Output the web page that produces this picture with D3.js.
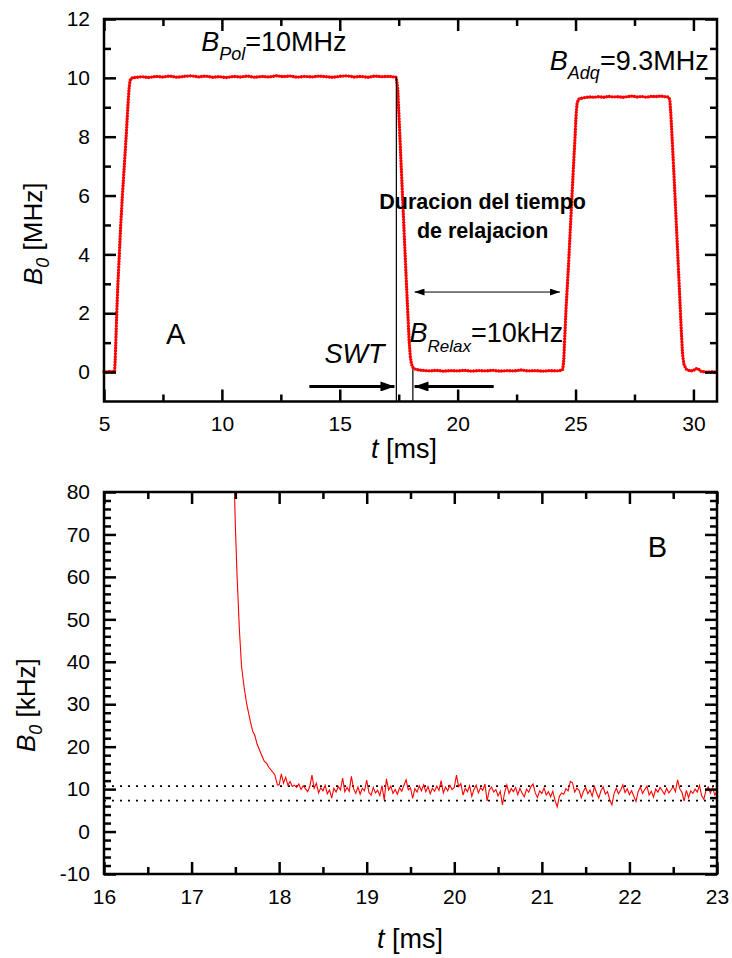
<!DOCTYPE html>
<html>
<head>
<meta charset="utf-8">
<script src="https://cdn.jsdelivr.net/npm/d3@7"></script>
<style>
body { margin: 0; background: #fff; }
svg text { font-family: "Liberation Sans", Arial, sans-serif; fill: #000; }
.axis text { font-size: 21px; }
.axis line { stroke: #000; stroke-width: 2.5; }
.axis path { display: none; }
</style>
</head>
<body>
<svg id="chart" width="732" height="958"></svg>
<script>
// panel A: B0 [MHz] vs t [ms], pieces of the field cycle
var baseStart = [[5.00,0.02],[5.10,0.00],[5.20,0.03],[5.30,0.01],[5.40,0.02],[5.45,0.05]];
var risePol = [[5.47,0.3],[5.50,1.0],[5.54,2.0],[5.59,3.0],[5.65,4.0],[5.71,5.0],[5.78,6.0],
  [5.86,7.0],[5.94,8.0],[6.01,9.0],[6.06,9.6],[6.10,9.9],[6.15,9.98],[6.25,10.01]];
var plateauPol = [[6.4,10.02],[6.6,10.04],[6.9,10.01],[7.2,10.05],[7.5,10.03],[7.8,10.06],[8.1,10.02],
  [8.4,10.05],[8.7,10.07],[9.0,10.03],[9.3,10.06],[9.6,10.02],[9.9,10.04],[10.2,10.01],[10.5,10.05],
  [10.8,10.03],[11.1,10.06],[11.4,10.02],[11.7,10.05],[12.0,10.03],[12.3,10.07],[12.6,10.04],[12.9,10.06],
  [13.2,10.02],[13.5,10.05],[13.8,10.03],[14.1,10.06],[14.4,10.04],[14.7,10.02],[15.0,10.05],[15.3,10.07],
  [15.6,10.03],[15.9,10.05],[16.2,10.02],[16.5,10.06],[16.8,10.04],[17.1,10.05],[17.3,10.03]];
var fallPol = [[17.38,10.03],[17.42,9.9],[17.46,9.6],[17.50,8.9],[17.60,7.1],[17.70,5.3],[17.80,3.5],
  [17.88,2.1],[17.94,1.1],[17.99,0.55],[18.04,0.28],[18.10,0.16],[18.20,0.1],[18.35,0.07]];
var relaxA = [[18.5,0.06],[18.8,0.04],[19.1,0.06],[19.4,0.03],[19.7,0.05],[20.0,0.04],[20.3,0.06],
  [20.6,0.03],[20.9,0.05],[21.2,0.04],[21.5,0.06],[21.8,0.03],[22.1,0.05],[22.4,0.04],[22.7,0.07],
  [23.0,0.04],[23.3,0.05],[23.6,0.03],[23.9,0.05],[24.2,0.04],[24.42,0.06]];
var riseAdq = [[24.46,0.1],[24.50,0.4],[24.55,1.3],[24.60,2.2],[24.70,3.6],[24.80,5.2],[24.90,6.8],
  [24.98,8.0],[25.02,8.7],[25.06,9.1],[25.12,9.27]];
var plateauAdq = [[25.2,9.3],[25.4,9.33],[25.6,9.35],[25.8,9.34],[26.0,9.36],[26.2,9.34],[26.4,9.37],
  [26.6,9.35],[26.8,9.36],[27.0,9.34],[27.2,9.36],[27.4,9.38],[27.6,9.35],[27.8,9.37],[28.0,9.34],
  [28.2,9.37],[28.4,9.36],[28.6,9.38],[28.8,9.36],[28.95,9.35]];
var fallAdq = [[29.00,9.25],[29.04,8.8],[29.10,7.9],[29.20,6.3],[29.30,4.6],[29.40,2.9],[29.48,1.5],
  [29.54,0.6],[29.60,0.25],[29.70,0.1],[29.85,0.04]];
var tailA = [[30.0,0.05],[30.1,0.12],[30.2,0.11],[30.3,0.03],[30.5,0.0],[30.8,0.01],[31.0,0.0]];

// panel B: B0 [kHz] vs t [ms], zoom on the relaxation level
var decayB = [[17.49,80],[17.50,72],[17.52,60],[17.545,48],[17.57,39],[17.60,34],[17.63,30],
  [17.67,26],[17.70,23.5],[17.72,22.8],[17.75,20.5],[17.79,18.5],[17.83,16.6],[17.86,16.0],
  [17.88,15.2],[17.92,14.2],[17.95,13.4],[17.98,11.0]];
var noiseB = [[18.000,11.0],[18.025,13.6],[18.050,11.4],[18.075,12.8],[18.100,10.9],[18.125,11.8],
  [18.150,10.6],[18.175,10.9],[18.200,10.4],[18.225,11.2],[18.250,9.9],[18.275,10.8],[18.300,10.1],
  [18.325,9.4],[18.350,10.6],[18.375,13.3],[18.400,10.2],[18.425,11.4],[18.450,9.1],[18.475,10.3],
  [18.500,9.6],[18.525,10.9],[18.550,8.9],[18.575,9.8],[18.600,7.9],[18.625,10.2],[18.650,9.3],
  [18.675,10.6],[18.700,9.8],[18.725,12.6],[18.750,9.4],[18.775,10.4],[18.800,9.5],[18.825,13.0],
  [18.850,10.1],[18.875,9.0],[18.900,10.5],[18.925,8.8],[18.950,10.2],[18.975,9.6],[19.000,12.1],
  [19.025,9.2],[19.050,8.6],[19.075,10.4],[19.100,9.1],[19.125,9.7],[19.150,8.5],[19.175,10.8],
  [19.200,7.4],[19.225,12.4],[19.250,9.8],[19.275,10.7],[19.300,9.0],[19.325,9.9],[19.350,8.8],
  [19.375,10.3],[19.400,9.5],[19.425,10.9],[19.450,12.2],[19.475,9.8],[19.500,10.3],[19.525,7.8],
  [19.550,10.1],[19.575,9.3],[19.600,10.8],[19.625,9.6],[19.650,11.0],[19.675,9.4],[19.700,10.6],
  [19.725,8.9],[19.750,10.2],[19.775,9.5],[19.800,10.7],[19.825,9.7],[19.850,12.0],[19.875,9.1],
  [19.900,10.5],[19.925,9.6],[19.950,10.9],[19.975,9.9],[20.000,10.4],[20.025,13.3],[20.050,10.6],
  [20.075,11.3],[20.100,8.6],[20.125,10.2],[20.150,9.4],[20.175,10.8],[20.200,8.3],[20.225,9.9],
  [20.250,10.9],[20.275,9.1],[20.300,10.3],[20.325,9.7],[20.350,11.2],[20.375,7.2],[20.400,9.8],
  [20.425,10.5],[20.450,9.3],[20.475,9.9],[20.500,8.4],[20.525,9.5],[20.550,6.3],[20.575,9.2],
  [20.600,11.0],[20.625,9.0],[20.650,10.1],[20.675,9.4],[20.700,10.4],[20.725,8.7],[20.750,10.2],
  [20.775,9.0],[20.800,8.2],[20.825,10.0],[20.850,9.3],[20.875,10.6],[20.900,11.2],[20.925,9.1],
  [20.950,8.0],[20.975,9.6],[21.000,9.0],[21.025,10.3],[21.050,8.6],[21.075,9.4],[21.100,8.2],
  [21.125,9.5],[21.150,7.4],[21.175,5.8],[21.200,8.3],[21.225,9.1],[21.250,8.8],[21.275,10.1],
  [21.300,9.6],[21.325,11.8],[21.350,11.5],[21.375,9.3],[21.400,10.2],[21.425,9.7],[21.450,8.0],
  [21.475,9.5],[21.500,10.4],[21.525,8.9],[21.550,9.8],[21.575,8.3],[21.600,10.6],[21.625,9.1],
  [21.650,7.9],[21.675,9.6],[21.700,10.5],[21.725,8.8],[21.750,9.4],[21.775,7.5],[21.800,6.3],
  [21.825,9.0],[21.850,10.2],[21.875,8.9],[21.900,9.8],[21.925,11.0],[21.950,9.2],[21.975,10.1],
  [22.000,8.7],[22.025,9.6],[22.050,8.3],[22.075,7.1],[22.100,9.4],[22.125,10.5],[22.150,9.0],
  [22.175,9.9],[22.200,10.7],[22.225,8.6],[22.250,9.5],[22.275,8.1],[22.300,10.0],[22.325,9.3],
  [22.350,10.4],[22.375,9.6],[22.400,8.8],[22.425,10.2],[22.450,9.1],[22.475,9.8],[22.500,10.6],
  [22.525,9.4],[22.550,12.2],[22.575,10.1],[22.600,9.2],[22.625,7.2],[22.650,9.7],[22.675,8.0],
  [22.700,9.6],[22.725,9.0],[22.750,10.0],[22.775,9.3],[22.800,10.9],[22.825,8.4],[22.850,7.6],
  [22.875,9.8],[22.900,10.5],[22.925,9.1],[22.950,10.3],[22.975,8.6],[23.000,9.4]];
var levelsB = [10.7, 7.3];

// ticks
var xTicksA = [5, 10, 15, 20, 25, 30];
var xMinorA = [7.5, 12.5, 17.5, 22.5, 27.5];
var yTicksA = [0, 2, 4, 6, 8, 10, 12];
var yMinorA = [1, 3, 5, 7, 9, 11];
var xTicksB = [16, 17, 18, 19, 20, 21, 22, 23];
var xMinorB = [16.5, 17.5, 18.5, 19.5, 20.5, 21.5, 22.5];
var yTicksB = [-10, 0, 10, 20, 30, 40, 50, 60, 70, 80];
var yMinorB = d3.range(-8, 80, 2).filter(function(d) { return d % 10 != 0; });

var svg = d3.select("#chart");

var defs = svg.append("defs");
function arrowHead(id, len, wid) {
	defs.append("marker")
		.attr("id", id)
		.attr("markerUnits", "userSpaceOnUse")
		.attr("viewBox", "0 0 " + len + " " + wid)
		.attr("refX", len).attr("refY", wid / 2)
		.attr("markerWidth", len).attr("markerHeight", wid)
		.attr("orient", "auto-start-reverse")
	.append("path")
		.attr("d", "M0,0L" + len + "," + (wid / 2) + "L0," + wid + "Z")
		.attr("fill", "#000");
}
arrowHead("headBig", 14, 10);
arrowHead("headSmall", 10, 7);

// frame + ticks for one panel
function drawAxes(box, x, y, xt, xm, yt, ym) {
	var fmt = function(d) { return String(d); };
	svg.append("g").attr("class", "axis").attr("transform", "translate(0," + box.bottom + ")")
		.call(d3.axisBottom(x).tickValues(xt).tickSize(-12).tickPadding(15).tickFormat(fmt));
	svg.append("g").attr("class", "axis").attr("transform", "translate(0," + box.bottom + ")")
		.call(d3.axisBottom(x).tickValues(xm).tickSize(-7).tickFormat(""));
	svg.append("g").attr("class", "axis").attr("transform", "translate(0," + box.top + ")")
		.call(d3.axisTop(x).tickValues(xt).tickSize(-12).tickFormat(""));
	svg.append("g").attr("class", "axis").attr("transform", "translate(0," + box.top + ")")
		.call(d3.axisTop(x).tickValues(xm).tickSize(-7).tickFormat(""));
	svg.append("g").attr("class", "axis").attr("transform", "translate(" + box.left + ",0)")
		.call(d3.axisLeft(y).tickValues(yt).tickSize(-12).tickPadding(14).tickFormat(fmt));
	svg.append("g").attr("class", "axis").attr("transform", "translate(" + box.left + ",0)")
		.call(d3.axisLeft(y).tickValues(ym).tickSize(-7).tickFormat(""));
	svg.append("g").attr("class", "axis").attr("transform", "translate(" + box.right + ",0)")
		.call(d3.axisRight(y).tickValues(yt).tickSize(-12).tickFormat(""));
	svg.append("g").attr("class", "axis").attr("transform", "translate(" + box.right + ",0)")
		.call(d3.axisRight(y).tickValues(ym).tickSize(-7).tickFormat(""));
	svg.append("rect")
		.attr("x", box.left).attr("y", box.top)
		.attr("width", box.right - box.left).attr("height", box.bottom - box.top)
		.attr("fill", "none").attr("stroke", "#000").attr("stroke-width", 2.5);
}

// text with italic letter + subscript
function subText(px, py, main, sub, rest, size, subSize, shift) {
	var t = svg.append("text").attr("x", px).attr("y", py).style("font-size", size + "px");
	t.append("tspan").style("font-style", "italic").text(main);
	t.append("tspan").style("font-style", "italic").style("font-size", subSize + "px")
		.attr("dy", shift).text(sub);
	t.append("tspan").attr("dy", -shift).text(rest);
	return t;
}

// ---------- panel A ----------
var boxA = {left: 104, right: 717, top: 19, bottom: 401.5};
var xA = d3.scaleLinear().domain([5, 31]).range([boxA.left, boxA.right]);
var yA = d3.scaleLinear().domain([-1, 12]).range([boxA.bottom, boxA.top]);

var cycle = [].concat(baseStart, risePol, plateauPol, fallPol, relaxA, riseAdq, plateauAdq, fallAdq, tailA);
var lineA = d3.line().x(function(d) { return xA(d[0]); }).y(function(d) { return yA(d[1]); });

svg.append("path").datum(cycle)
	.attr("d", lineA).attr("fill", "none").attr("stroke", "#000").attr("stroke-width", 0.8);
svg.append("path").datum(cycle)
	.attr("d", lineA).attr("fill", "none").attr("stroke", "#ff0000")
	.attr("stroke-width", 3.4).attr("stroke-dasharray", "0 2.8").attr("stroke-linecap", "round");

// switching time markers
var swtStart = 17.40, swtEnd = 18.10;
svg.append("line")
	.attr("x1", xA(swtStart)).attr("x2", xA(swtStart))
	.attr("y1", yA(10.03)).attr("y2", yA(-1))
	.attr("stroke", "#000").attr("stroke-width", 1.2);
svg.append("line")
	.attr("x1", xA(swtEnd)).attr("x2", xA(swtEnd))
	.attr("y1", yA(0.1)).attr("y2", yA(-1))
	.attr("stroke", "#000").attr("stroke-width", 1.2);

svg.append("line")
	.attr("x1", xA(13.71)).attr("x2", xA(17.32)).attr("y1", yA(-0.49)).attr("y2", yA(-0.49))
	.attr("stroke", "#000").attr("stroke-width", 3).attr("marker-end", "url(#headBig)");
svg.append("line")
	.attr("x1", xA(21.53)).attr("x2", xA(18.17)).attr("y1", yA(-0.49)).attr("y2", yA(-0.49))
	.attr("stroke", "#000").attr("stroke-width", 3).attr("marker-end", "url(#headBig)");

// relaxation duration
svg.append("line")
	.attr("x1", xA(18.17)).attr("x2", xA(24.34)).attr("y1", yA(2.72)).attr("y2", yA(2.72))
	.attr("stroke", "#000").attr("stroke-width", 1)
	.attr("marker-start", "url(#headSmall)").attr("marker-end", "url(#headSmall)");

svg.append("text").attr("x", xA(21.06)).attr("y", yA(5.55))
	.attr("text-anchor", "middle").style("font-size", "21.5px").style("font-weight", "bold")
	.text("Duracion del tiempo");
svg.append("text").attr("x", xA(21.06)).attr("y", yA(4.56))
	.attr("text-anchor", "middle").style("font-size", "21.5px").style("font-weight", "bold")
	.text("de relajacion");

subText(xA(9.12), yA(10.91), "B", "Pol", "=10MHz", 27, 18, 9);
subText(xA(23.91), yA(10.26), "B", "Adq", "=9.3MHz", 27, 18, 9);
subText(xA(17.96), yA(1.01), "B", "Relax", "=10kHz", 27, 17, 10);

svg.append("text").attr("x", xA(7.63)).attr("y", yA(0.95)).style("font-size", "29px").text("A");
svg.append("text").attr("x", xA(14.35)).attr("y", yA(0.30))
	.style("font-size", "27px").style("font-style", "italic").text("SWT");

drawAxes(boxA, xA, yA, xTicksA, xMinorA, yTicksA, yMinorA);

var xtA = svg.append("text").attr("x", 404).attr("y", 458)
	.attr("text-anchor", "middle").style("font-size", "27px");
xtA.append("tspan").style("font-style", "italic").text("t");
xtA.append("tspan").text(" [ms]");

subText(0, 0, "B", "0", " [MHz]", 26, 18, 7)
	.attr("transform", "translate(42,285) rotate(-90)");

// ---------- panel B ----------
var boxB = {left: 104, right: 717, top: 492, bottom: 874};
var xB = d3.scaleLinear().domain([16, 23]).range([boxB.left, boxB.right]);
var yB = d3.scaleLinear().domain([-10, 80]).range([boxB.bottom, boxB.top]);

defs.append("clipPath").attr("id", "clipB").append("rect")
	.attr("x", boxB.left).attr("y", boxB.top)
	.attr("width", boxB.right - boxB.left).attr("height", boxB.bottom - boxB.top);

svg.selectAll(".level").data(levelsB).enter().append("line")
	.attr("class", "level")
	.attr("x1", boxB.left).attr("x2", boxB.right)
	.attr("y1", function(d) { return yB(d); }).attr("y2", function(d) { return yB(d); })
	.attr("stroke", "#000").attr("stroke-width", 1.8).attr("stroke-dasharray", "2 6");

var lineB = d3.line().x(function(d) { return xB(d[0]); }).y(function(d) { return yB(d[1]); });
svg.append("path").datum(decayB.concat(noiseB))
	.attr("clip-path", "url(#clipB)")
	.attr("d", lineB).attr("fill", "none").attr("stroke", "#ff0000").attr("stroke-width", 1.1);

svg.append("text").attr("x", xB(22.21)).attr("y", yB(64.8)).style("font-size", "29px").text("B");

drawAxes(boxB, xB, yB, xTicksB, xMinorB, yTicksB, yMinorB);

var xtB = svg.append("text").attr("x", 410).attr("y", 948)
	.attr("text-anchor", "middle").style("font-size", "27px");
xtB.append("tspan").style("font-style", "italic").text("t");
xtB.append("tspan").text(" [ms]");

subText(0, 0, "B", "0", " [kHz]", 26, 18, 7)
	.attr("transform", "translate(35,752) rotate(-90)");
</script>
</body>
</html>
